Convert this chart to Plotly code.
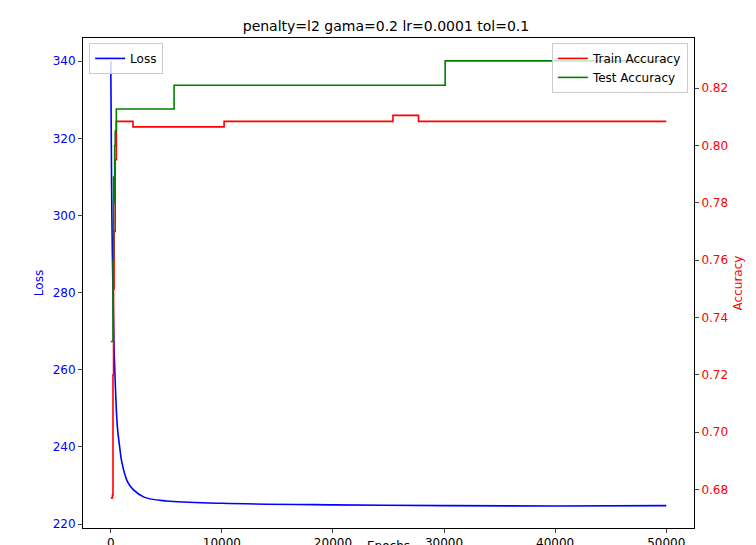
import plotly.graph_objects as go

loss_epochs = [0, 50, 100, 200, 300, 450, 600, 800, 1000, 1500, 2000, 3000, 5000, 10000, 20000, 30000, 40000, 50000]
loss_vals = [340, 318, 300, 280, 265, 253, 245, 240, 236, 231, 229, 227, 226, 225.4, 225.0, 224.8, 224.7, 224.8]

train_epochs = [0, 150, 200, 250, 300, 400, 500, 2000, 10200, 25400, 27700, 50000]
train_acc = [0.677, 0.678, 0.72, 0.75, 0.77, 0.795, 0.8084, 0.8065, 0.8084, 0.8105, 0.8084, 0.8084]

test_epochs = [0, 200, 250, 300, 350, 400, 500, 5700, 30100, 50000]
test_acc = [0.7316, 0.76, 0.789, 0.78, 0.80, 0.805, 0.8127, 0.821, 0.8295, 0.8295]

fig = go.Figure()
fig.add_trace(go.Scatter(x=loss_epochs, y=loss_vals, mode='lines', name='Loss', showlegend=True,
                         line=dict(color='blue', width=1.6), line_shape='spline', legend='legend'))
fig.add_trace(go.Scatter(x=train_epochs, y=train_acc, mode='lines', name='Train Accuracy',
                         line=dict(color='red', width=1.6), line_shape='hv', yaxis='y2', legend='legend2'))
fig.add_trace(go.Scatter(x=test_epochs, y=test_acc, mode='lines', name='Test Accuracy',
                         line=dict(color='green', width=1.6), line_shape='hv', yaxis='y2', legend='legend2'))

axis_common = dict(showgrid=False, zeroline=False, showline=True, linecolor='black', mirror=False,
                   ticks='outside', ticklen=4, tickfont=dict(size=12), automargin=False)
fig.update_layout(
    width=756, height=545, showlegend=True,
    title=dict(text='penalty=l2 gama=0.2 lr=0.0001 tol=0.1', x=0.5, y=0.975, font=dict(size=14, color='black')),
    font=dict(family='DejaVu Sans', color='black'),
    plot_bgcolor='white', paper_bgcolor='white',
    margin=dict(l=75, r=70, t=30, b=25),
    xaxis=dict(axis_common, title=dict(text='Epochs', font=dict(size=12), standoff=2), range=[-2500, 52500],
               tickvals=[0, 10000, 20000, 30000, 40000, 50000], tickformat='d', mirror=True),
    yaxis=dict(axis_common, title=dict(text='Loss', font=dict(size=12, color='blue'), standoff=6), range=[219, 346],
               tickvals=[220, 240, 260, 280, 300, 320, 340], tickfont=dict(size=12, color='blue')),
    yaxis2=dict(axis_common, title=dict(text='Accuracy', font=dict(size=12, color='red'), standoff=6),
                overlaying='y', side='right', range=[0.6665, 0.8375], tickformat='.2f',
                tickvals=[0.68, 0.70, 0.72, 0.74, 0.76, 0.78, 0.80, 0.82], tickfont=dict(size=12, color='red')),
    legend=dict(x=0.01, y=0.99, xanchor='left', yanchor='top', bgcolor='rgba(255,255,255,0.8)',
                bordercolor='#ccc', borderwidth=1, font=dict(size=12)),
    legend2=dict(x=0.99, y=0.99, xanchor='right', yanchor='top', bgcolor='rgba(255,255,255,0.8)',
                 bordercolor='#ccc', borderwidth=1, font=dict(size=12)),
)
fig.write_html("out.html")
